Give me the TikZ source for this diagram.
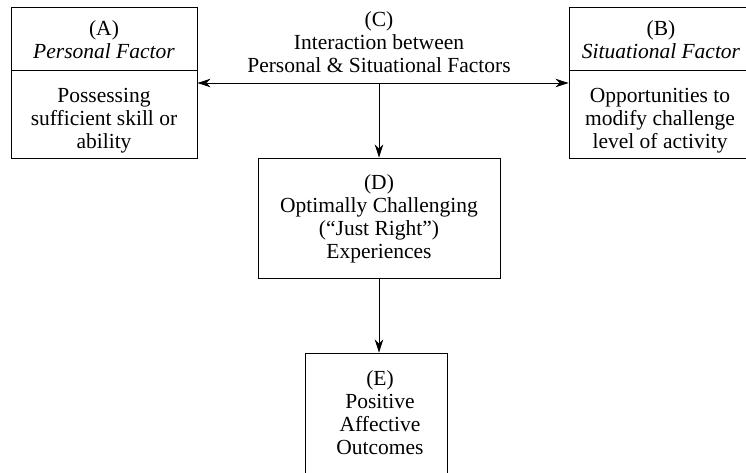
\documentclass[tikz,border=0pt]{standalone}
\usepackage{fontspec}
\setmainfont{Liberation Serif}
\usetikzlibrary{arrows.meta,calc}
\begin{document}
\begin{tikzpicture}[x=1pt,y=-1pt,
  txt/.style={align=center, font=\fontsize{21.5}{23}\selectfont, inner sep=0pt},
  box/.style={draw, line width=0.9pt, inner sep=0pt},
  conn/.style={line width=0.9pt, -{Stealth[length=13pt,width=8.5pt,inset=4pt]}},
  dconn/.style={line width=0.9pt, {Stealth[length=13pt,width=8.5pt,inset=4pt]}-{Stealth[length=13pt,width=8.5pt,inset=4pt]}},
]
\useasboundingbox (0,0) rectangle (746,472);
% Box A
\node[box, minimum width=186pt, minimum height=63pt] (A1) at (104,38.5) {};
\node[txt] (A1t) at (104,40) {(A)\\\textit{Personal Factor}};
\node[box, minimum width=186pt, minimum height=88pt] (A2) at (104,114) {};
\node[txt] (A2t) at (104,121) {Possessing\\sufficient skill or\\ability};
% Box B
\node[box, minimum width=183pt, minimum height=63pt] (B1) at (660.5,38.5) {};
\node[txt] (B1t) at (661,40) {(B)\\\textit{Situational Factor}};
\node[box, minimum width=183pt, minimum height=88pt] (B2) at (660.5,114) {};
\node[txt] (B2t) at (660,121) {Opportunities to\\modify challenge\\level of activity};
% C
\node[txt] (C) at (379,42) {(C)\\Interaction between\\Personal \& Situational Factors};
\coordinate (cm) at (379,83);
% D
\node[box, minimum width=242pt, minimum height=120pt] (D) at (379,218) {};
\node[txt] (Dt) at (379,219) {(D)\\Optimally Challenging\\(``Just Right'')\\Experiences};
% E
\node[box, minimum width=142pt, minimum height=121pt] (E) at (376,413.5) {};
\node[txt] (Et) at (380,413) {(E)\\Positive\\Affective\\Outcomes};
% connectors
\draw[dconn] (A2.east |- cm) -- (B2.west |- cm);
\draw[conn] (cm) -- (cm |- D.north);
\draw[conn] (cm |- D.south) -- (cm |- E.north);
\end{tikzpicture}
\end{document}
